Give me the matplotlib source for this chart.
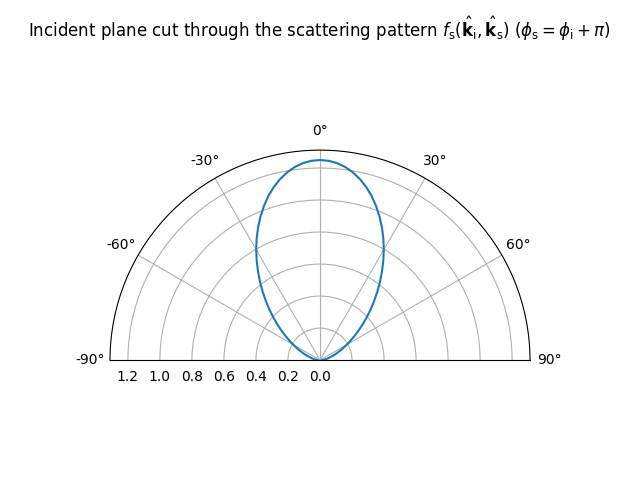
import numpy as np
import matplotlib
matplotlib.use("Agg")
import matplotlib.pyplot as plt

# scattering angle (degrees) and pattern values
theta_deg = [0, 2.5, 5, 7.5, 10, 12.5, 15, 17.5, 20, 22.5, 25, 27.5, 30, 32.5, 35,
             37.5, 40, 42.5, 45, 47.5, 50, 52.5, 55, 57.5, 60, 62.5, 65, 67.5, 70,
             72.5, 75, 77.5, 80, 82.5, 85, 87.5, 90]
f_s_half = [1.250, 1.246, 1.235, 1.216, 1.190, 1.157, 1.118, 1.074, 1.024, 0.971,
            0.915, 0.857, 0.797, 0.736, 0.675, 0.615, 0.557, 0.500, 0.447, 0.396,
            0.348, 0.304, 0.263, 0.226, 0.193, 0.163, 0.137, 0.114, 0.094, 0.076,
            0.062, 0.049, 0.039, 0.031, 0.024, 0.018, 0.014]

angles = [-a for a in theta_deg[::-1]] + theta_deg[1:]
values = f_s_half[::-1] + f_s_half[1:]

fig = plt.figure(figsize=(6.4, 4.8), dpi=100)
ax = fig.add_subplot(111, projection="polar")
fig.subplots_adjust(left=0.1, right=0.9, bottom=0.031, top=0.906)
ax.plot(np.radians(angles), values)
ax.set_theta_zero_location("N")
ax.set_theta_direction(-1)
ax.set_thetamin(-90)
ax.set_thetamax(90)
ax.set_title(r"Incident plane cut through the scattering pattern "
             r"$f_\mathrm{s}(\hat{\mathbf{k}}_\mathrm{i}, \hat{\mathbf{k}}_\mathrm{s})$ "
             r"$(\phi_\mathrm{s} = \phi_\mathrm{i} + \pi)$")
fig.savefig("out.png")
